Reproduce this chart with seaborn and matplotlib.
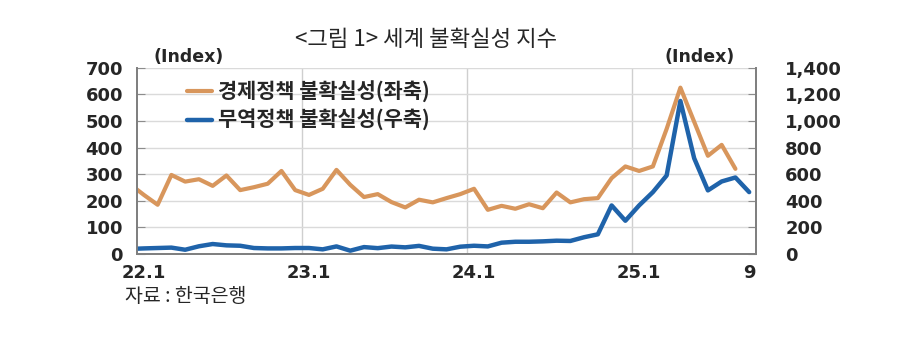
import seaborn as sns
import matplotlib.pyplot as plt
import matplotlib.ticker as mticker
import numpy as np
import pandas as pd

# 월 (21.12는 축 왼쪽 밖으로 잘리는 구간)
months = ["21.12"] + [f"{y}.{m}" for y in (22, 23, 24) for m in range(1, 13)] + [f"25.{m}" for m in range(1, 10)]

# 경제정책 불확실성 (좌축), 25.9는 없음
epu = [262,
       222, 185, 297, 272, 281, 256, 295, 240, 251, 264, 312, 240,
       222, 245, 316, 260, 214, 225, 195, 175, 204, 194, 210, 225,
       245, 166, 181, 170, 187, 172, 231, 194, 206, 210, 285, 329,
       312, 329, 470, 625, 497, 369, 410, 320, np.nan]

# 무역정책 불확실성 (우축)
tpu = [38,
       42, 45, 48, 32, 58, 75, 65, 62, 45, 42, 42, 45,
       45, 35, 57, 25, 52, 44, 56, 50, 61, 40, 35, 55,
       62, 57, 85, 92, 92, 95, 100, 98, 126, 148, 365, 250,
       365, 465, 590, 1150, 720, 478, 545, 575, 465]

tick_months = ["22.1", "23.1", "24.1", "25.1", "25.9"]
tick_labels = ["22.1", "23.1", "24.1", "25.1", "9"]
year_starts = [12, 24, 36]

sns.set_style("white")
plt.rcParams["font.family"] = ["DejaVu Sans", "Noto Sans CJK KR"]
KR = ["Noto Sans CJK KR", "DejaVu Sans"]

ORANGE = "#D8965C"
BLUE = "#1F63AA"

# 각 월의 점은 월 구간의 가운데에 놓인다
df = pd.DataFrame({"month": months, "epu": epu, "tpu": tpu})
df["pos"] = np.arange(len(df)) - 0.5

fig = plt.figure(figsize=(8.99, 3.52), dpi=100)
ax = fig.add_axes([0.1524, 0.2784, 0.6886, 0.5293])
ax2 = ax.twinx()

sns.lineplot(data=df, x="pos", y="epu", ax=ax, color=ORANGE, linewidth=3,
             label="경제정책 불확실성(좌축)")
sns.lineplot(data=df, x="pos", y="tpu", ax=ax2, color=BLUE, linewidth=3.2,
             label="무역정책 불확실성(우축)")
ax.get_legend().remove()
ax2.get_legend().remove()

ax.set_xlim(0, len(df) - 1)
ax.set_ylim(0, 700)
ax2.set_ylim(0, 1400)
ax.set_yticks(range(0, 701, 100))
ax2.set_yticks(range(0, 1401, 200))
ax2.yaxis.set_major_formatter(mticker.FuncFormatter(lambda v, p: f"{v:,.0f}"))

pos_of = dict(zip(df["month"], df["pos"]))
ax.set_xticks([pos_of[m] for m in tick_months])
ax.set_xticklabels(tick_labels)
ax.set_xticks(year_starts, minor=True)

ax.set_xlabel("")
ax.set_ylabel("")
ax2.set_ylabel("")

ax.grid(axis="y", color="#DADADA", linewidth=1)
ax.grid(axis="x", which="minor", color="#CFCFCF", linewidth=1)
ax.grid(axis="x", which="major", visible=False)
ax.set_axisbelow(True)

for a in (ax, ax2):
    a.spines["top"].set_visible(False)
    for s in ("left", "right", "bottom"):
        a.spines[s].set_color("#7F7F7F")
        a.spines[s].set_linewidth(1.3)

ax.tick_params(axis="y", direction="in", length=6, color="#8C8C8C", pad=10,
               labelsize=13)
ax2.tick_params(axis="y", direction="in", length=6, color="#8C8C8C", pad=21,
                labelsize=13)
ax.tick_params(axis="x", which="both", length=0, pad=7, labelsize=13)
for lab in ax.get_yticklabels() + ax2.get_yticklabels() + ax.get_xticklabels():
    lab.set_fontweight("bold")

h1, l1 = ax.get_legend_handles_labels()
h2, l2 = ax2.get_legend_handles_labels()
ax2.legend(h1 + h2, l1 + l2, loc="upper left", bbox_to_anchor=(0.05, 1.03),
           frameon=False, handlelength=1.2, handletextpad=0.3, labelspacing=0.3,
           prop={"family": KR, "weight": "bold", "size": 15})

fig.text(0.474, 0.888, "<그림 1> 세계 불확실성 지수", ha="center", va="center",
         fontsize=16, family=KR)
fig.text(0.21, 0.838, "(Index)", ha="center", va="center", fontsize=12.5,
         fontweight="bold")
fig.text(0.778, 0.838, "(Index)", ha="center", va="center", fontsize=12.5,
         fontweight="bold")
fig.text(0.139, 0.157, "자료 : 한국은행", ha="left", va="center", fontsize=14,
         family=KR)

fig.savefig("out.png", dpi=100)
